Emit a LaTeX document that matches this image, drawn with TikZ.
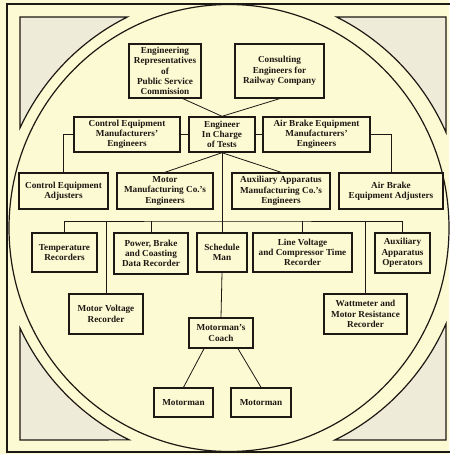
\documentclass[tikz,border=0pt]{standalone}
\usepackage{fontspec}
\setmainfont{Liberation Serif}
\usepackage{tikz}
\definecolor{paper}{RGB}{252,250,210}
\definecolor{shade}{RGB}{238,236,216}
\definecolor{ink}{RGB}{28,24,20}

\begin{document}
\begin{tikzpicture}[x=1pt,y=-1pt,
		box/.style={draw=ink,line width=1.4pt,align=center,inner sep=1pt,
			font=\fontsize{9.2}{10.3}\selectfont\bfseries,text=ink},
		link/.style={draw=ink,line width=0.8pt},
		tri/.style={draw=ink,line width=1.2pt,fill=shade}]
		\useasboundingbox (0,0) rectangle (449,454);
		\fill[paper] (0,0) rectangle (449,454);
		% frame and circle
		\draw[ink,line width=1.5pt] (7,4) rectangle (456,452);
		\draw[ink,line width=1.2pt] (229,228) ellipse [x radius=220, y radius=223.5];
		% corner pieces
		\draw[tri] (20,17) -- (127.4,17) arc[start angle=243.9, end angle=205.2, x radius=231, y radius=235] -- cycle;
		\draw[tri] (446,17) -- (336.6,17) arc[start angle=296.1, end angle=336.0, x radius=231, y radius=235] -- cycle;
		\draw[tri] (20,440) -- (20,328) arc[start angle=154.8, end angle=115.6, x radius=231, y radius=235] -- cycle;
		\draw[tri] (446,440) -- (334.8,440) arc[start angle=64.4, end angle=24.0, x radius=231, y radius=235] -- cycle;
		% top
		\node[box,minimum width=72,minimum height=54] (rep) at (165,71) {Engineering\\Representatives\\of\\Public Service\\Commission};
		\node[box,minimum width=89,minimum height=54] (cons) at (279.5,71) {Consulting\\Engineers for\\Railway Company};
		\node[box,minimum width=106,minimum height=35] (cem) at (127,134.5) {Control Equipment\\Manufacturers'\\Engineers};
		\node[box,minimum width=66,minimum height=35] (eit) at (222,134.5) {Engineer\\In Charge\\of Tests};
		\node[box,minimum width=107,minimum height=35] (abm) at (316.5,134.5) {Air Brake Equipment\\Manufacturers'\\Engineers};
		% second row
		\node[box,minimum width=89,minimum height=36] (cea) at (63.5,191) {Control Equipment\\Adjusters};
		\node[box,minimum width=96,minimum height=36] (mmc) at (165,191) {Motor\\Manufacturing Co.'s\\Engineers};
		\node[box,minimum width=98,minimum height=36] (aam) at (281,191) {Auxiliary Apparatus\\Manufacturing Co.'s\\Engineers};
		\node[box,minimum width=104,minimum height=36] (aba) at (391,191) {Air Brake\\Equipment Adjusters};
		% third row
		\node[box,minimum width=65,minimum height=39] (tr) at (64.5,252.5) {Temperature\\Recorders};
		\node[box,minimum width=74,minimum height=41] (pbc) at (151,253.5) {Power, Brake\\and Coasting\\Data Recorder};
		\node[box,minimum width=50,minimum height=39] (sm) at (222,252.5) {Schedule\\Man};
		\node[box,minimum width=99,minimum height=39] (lvc) at (302.5,252.5) {Line Voltage\\and Compressor Time\\Recorder};
		\node[box,minimum width=55,minimum height=40] (aao) at (402.5,253) {Auxiliary\\Apparatus\\Operators};
		\node[box,minimum width=74,minimum height=40] (mvr) at (106,314) {Motor Voltage\\Recorder};
		\node[box,minimum width=83,minimum height=40] (wmr) at (365.5,314) {Wattmeter and\\Motor Resistance\\Recorder};
		% bottom
		\node[box,minimum width=64,minimum height=30] (mc) at (221,333) {Motorman's\\Coach};
		\node[box,minimum width=59,minimum height=29] (m1) at (183.5,402.5) {Motorman};
		\node[box,minimum width=60,minimum height=29] (m2) at (261,402.5) {Motorman};
		% links
		\coordinate (bus) at (222,221);
		\draw[link] ([xshift=18]rep.south) -- (eit.north);
		\draw[link] (cons.south) -- (eit.north);
		\draw[link] (cem.east) -- (eit.west);
		\draw[link] (eit.east) -- (abm.west);
		\draw[link] (cem.west) -| (cea.north);
		\draw[link] (abm.east) -| (aba.north);
		\draw[link] (eit.south) -- (mmc.north);
		\draw[link] (eit.south) -- (aam.north);
		\draw[link] (eit.south) -- (sm.north);
		\draw[link] (tr.north) |- (bus) -| (aao.north);
		\foreach \n in {mvr,pbc,lvc,wmr}
			\draw[link] (\n.north) -- (\n.north |- bus);
		\draw[link] (sm.south) -- (mc.north);
		\draw[link] ([xshift=-17]mc.south) -- (m1.north);
		\draw[link] ([xshift=17]mc.south) -- (m2.north);
\end{tikzpicture}
\end{document}
